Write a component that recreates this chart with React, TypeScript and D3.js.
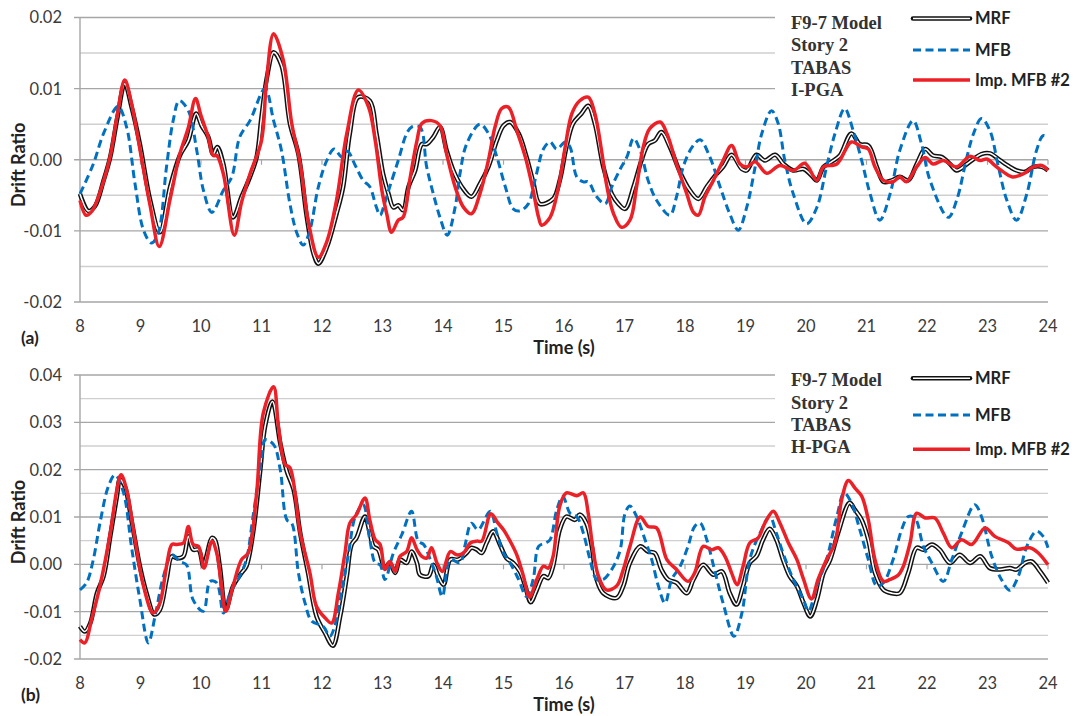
import * as d3 from "d3";

type Pt = [number, number];

// time (s), drift ratio x 1e-3
const xTickLabels = [8, 9, 10, 11, 12, 13, 14, 15, 16, 17, 18, 19, 20, 21, 22, 23, 24];
const seriesNames = ["MRF", "MFB", "Imp. MFB #2"];

const topMRF: Pt[] = [[8.0,-4.8],[8.14,-7.2],[8.25,-6.5],[8.39,-2.9],[8.5,0.4],[8.62,6.0],[8.74,10.7],[8.85,7.5],[8.99,2.2],[9.16,-5.7],[9.32,-10.2],[9.49,-3.8],[9.65,0.6],[9.79,2.7],[9.92,6.5],[10.01,4.8],[10.12,3.2],[10.2,0.8],[10.27,1.8],[10.37,-0.6],[10.53,-8.1],[10.67,-5.2],[10.81,-2.4],[10.92,0.4],[11.0,6.0],[11.09,11.6],[11.2,15.1],[11.33,13.3],[11.47,5.1],[11.61,0.8],[11.75,-8.1],[11.86,-13.2],[11.94,-14.6],[12.08,-12.3],[12.24,-7.6],[12.35,-3.8],[12.46,3.7],[12.6,8.8],[12.79,8.3],[12.9,3.7],[13.01,-2.0],[13.1,-4.8],[13.18,-6.7],[13.26,-6.4],[13.34,-7.1],[13.43,-3.8],[13.54,-1.5],[13.65,2.2],[13.73,2.2],[13.84,3.2],[13.95,4.6],[14.06,1.3],[14.17,-1.5],[14.31,-3.8],[14.47,-5.2],[14.61,-3.4],[14.75,-1.0],[14.89,2.7],[15.0,4.8],[15.11,5.3],[15.25,3.7],[15.38,0.4],[15.49,-3.1],[15.6,-6.2],[15.82,-5.5],[15.93,-2.9],[16.04,1.8],[16.15,5.1],[16.29,6.5],[16.4,7.6],[16.51,5.1],[16.65,-1.0],[16.79,-4.8],[16.9,-6.2],[17.01,-6.9],[17.15,-3.8],[17.28,-0.1],[17.39,2.2],[17.5,2.7],[17.61,3.9],[17.75,1.8],[17.92,-1.8],[18.08,-4.3],[18.22,-5.5],[18.36,-3.8],[18.5,-2.2],[18.63,-1.0],[18.77,0.7],[18.94,-1.3],[19.02,-1.5],[19.18,0.7],[19.32,-0.1],[19.49,0.7],[19.63,-0.6],[19.79,-1.5],[19.96,-1.3],[20.09,-2.2],[20.18,-2.9],[20.29,-1.0],[20.42,-0.3],[20.56,0.6],[20.75,3.7],[20.89,2.2],[21.03,2.0],[21.17,-1.0],[21.28,-3.1],[21.42,-2.9],[21.55,-2.4],[21.69,-2.9],[21.83,-0.6],[21.97,1.5],[22.1,0.6],[22.24,0.4],[22.38,-0.6],[22.49,-1.5],[22.66,-0.6],[22.77,0.1],[22.9,0.8],[23.04,0.9],[23.21,-0.1],[23.37,-1.0],[23.48,-1.5],[23.62,-1.7],[23.76,-1.0],[23.9,-1.0],[24.0,-1.5]];

const topMFB: Pt[] = [[8.0,-4.8],[8.22,-0.6],[8.39,3.7],[8.63,7.5],[8.77,4.6],[8.91,-3.4],[9.05,-9.9],[9.18,-11.7],[9.29,-10.4],[9.43,-1.0],[9.54,5.5],[9.64,8.3],[9.79,6.9],[9.93,1.3],[10.04,-4.3],[10.18,-7.4],[10.37,-4.3],[10.51,-2.4],[10.64,3.2],[10.81,5.5],[11.06,10.0],[11.2,5.5],[11.33,1.3],[11.47,-6.2],[11.58,-10.2],[11.69,-12.0],[11.8,-9.9],[11.94,-3.8],[12.08,-0.1],[12.2,1.5],[12.33,0.4],[12.42,1.2],[12.55,-0.8],[12.68,-2.9],[12.79,-3.8],[12.9,-6.7],[12.96,-7.8],[13.04,-6.0],[13.12,-3.8],[13.26,-0.1],[13.4,3.7],[13.48,4.6],[13.62,4.6],[13.73,-1.0],[13.84,-4.8],[13.95,-8.1],[14.07,-10.6],[14.2,-6.7],[14.28,-2.0],[14.39,2.2],[14.61,5.0],[14.75,3.7],[14.89,0.4],[15.03,-3.8],[15.16,-6.9],[15.27,-7.2],[15.41,-6.2],[15.52,-2.9],[15.66,1.5],[15.77,2.5],[15.88,1.5],[16.02,2.5],[16.1,1.8],[16.21,-2.4],[16.32,-3.1],[16.4,-3.1],[16.54,-5.2],[16.68,-6.2],[16.79,-3.8],[16.93,-1.3],[17.04,0.4],[17.15,3.0],[17.26,1.3],[17.39,-2.9],[17.53,-5.7],[17.75,-7.8],[17.86,-5.2],[17.97,-1.0],[18.12,1.8],[18.25,2.8],[18.41,0.4],[18.58,-3.8],[18.74,-7.6],[18.88,-9.9],[19.02,-6.7],[19.16,-1.0],[19.27,3.7],[19.43,6.9],[19.54,5.1],[19.65,-0.1],[19.79,-4.8],[20.01,-9.0],[20.18,-6.7],[20.34,-1.0],[20.48,3.7],[20.64,7.2],[20.78,4.1],[20.92,-0.1],[21.06,-4.8],[21.22,-8.5],[21.39,-4.8],[21.55,1.3],[21.77,5.5],[21.91,2.2],[22.05,-2.9],[22.35,-8.1],[22.49,-5.7],[22.66,0.4],[22.77,3.7],[22.9,5.8],[23.04,4.1],[23.18,-1.0],[23.32,-5.7],[23.48,-8.5],[23.65,-4.8],[23.81,1.3],[23.92,3.4],[24.0,3.2]];

const topImp: Pt[] = [[8.0,-5.7],[8.1,-7.8],[8.2,-7.2],[8.39,-3.0],[8.5,0.5],[8.62,6.5],[8.74,11.2],[8.85,8.0],[8.99,1.5],[9.16,-6.5],[9.31,-12.2],[9.49,-5.5],[9.65,0.8],[9.79,4.5],[9.91,8.6],[10.0,6.2],[10.12,3.2],[10.2,0.6],[10.26,0.6],[10.37,-2.0],[10.55,-10.6],[10.67,-6.0],[10.81,-2.0],[11.0,2.7],[11.08,10.7],[11.2,17.7],[11.36,14.0],[11.5,5.1],[11.64,-0.5],[11.78,-9.0],[11.94,-13.7],[12.08,-11.5],[12.24,-5.7],[12.41,3.7],[12.6,9.8],[12.77,7.4],[12.88,2.7],[12.99,-4.3],[13.07,-7.6],[13.15,-10.2],[13.26,-8.5],[13.34,-8.1],[13.45,-2.9],[13.57,2.7],[13.65,5.1],[13.81,5.5],[13.95,4.8],[14.06,0.8],[14.2,-3.8],[14.34,-6.7],[14.47,-7.6],[14.61,-4.8],[14.75,-0.1],[14.86,4.6],[14.97,7.2],[15.08,7.4],[15.22,4.1],[15.36,0.4],[15.49,-4.3],[15.58,-8.1],[15.63,-9.2],[15.77,-8.1],[15.91,-3.8],[16.02,1.8],[16.13,6.5],[16.26,8.3],[16.4,8.8],[16.51,6.5],[16.62,1.3],[16.71,-3.8],[16.82,-7.6],[16.95,-9.5],[17.09,-8.5],[17.2,-3.8],[17.31,1.8],[17.42,4.4],[17.59,5.3],[17.7,3.7],[17.86,-0.6],[18.03,-4.8],[18.14,-7.4],[18.22,-7.8],[18.33,-5.2],[18.47,-2.9],[18.63,-0.1],[18.77,2.0],[18.91,-0.6],[19.02,-1.0],[19.16,-0.3],[19.35,-1.9],[19.57,-0.8],[19.79,-1.5],[19.98,-0.5],[20.18,-2.9],[20.29,-1.0],[20.51,-0.6],[20.75,2.5],[20.92,1.8],[21.03,1.5],[21.14,-1.0],[21.28,-2.9],[21.44,-3.1],[21.55,-2.4],[21.66,-3.1],[21.83,-1.0],[21.97,0.3],[22.1,-0.6],[22.27,-0.1],[22.49,-1.0],[22.71,0.5],[22.88,-0.1],[22.99,0.1],[23.12,-0.8],[23.26,-1.7],[23.4,-2.4],[23.59,-2.0],[23.76,-1.0],[23.9,-0.8],[24.0,-1.5]];

const botMRF: Pt[] = [[8.0,-13.1],[8.08,-14.2],[8.17,-12.4],[8.28,-6.1],[8.39,-2.5],[8.5,5.9],[8.61,14.4],[8.66,17.9],[8.74,16.5],[8.85,9.4],[8.99,-0.4],[9.1,-6.1],[9.23,-10.6],[9.32,-9.6],[9.43,-3.2],[9.52,1.7],[9.6,1.3],[9.71,1.7],[9.79,5.9],[9.87,3.1],[9.96,3.1],[10.04,-0.4],[10.09,1.7],[10.18,5.6],[10.23,5.2],[10.31,-0.4],[10.41,-9.6],[10.53,-4.6],[10.67,-1.8],[10.75,-0.4],[10.86,6.6],[10.98,20.0],[11.06,29.2],[11.18,34.4],[11.31,25.6],[11.42,19.6],[11.53,15.8],[11.64,6.6],[11.77,-1.8],[11.91,-11.0],[12.05,-14.5],[12.18,-17.2],[12.3,-11.0],[12.41,-2.5],[12.49,4.2],[12.57,5.6],[12.71,10.1],[12.79,6.6],[12.85,3.8],[12.93,3.1],[13.04,-0.8],[13.12,0.3],[13.21,-1.8],[13.29,1.0],[13.4,0.3],[13.48,2.7],[13.57,0.3],[13.62,-2.2],[13.76,-2.5],[13.84,-0.1],[13.92,-2.5],[14.01,-4.3],[14.12,1.0],[14.25,1.0],[14.39,2.4],[14.47,3.5],[14.56,3.1],[14.64,2.4],[14.72,4.5],[14.83,7.0],[14.94,4.2],[15.05,1.3],[15.16,0.3],[15.27,-1.5],[15.36,-4.6],[15.45,-8.0],[15.55,-5.4],[15.66,-2.5],[15.74,-2.9],[15.82,-0.4],[15.93,7.3],[16.04,10.1],[16.18,9.4],[16.26,10.5],[16.37,8.7],[16.46,3.8],[16.54,-3.2],[16.65,-6.1],[16.87,-7.1],[16.98,-4.6],[17.09,0.3],[17.26,3.8],[17.39,2.7],[17.5,2.4],[17.61,-1.1],[17.72,-3.2],[17.86,-3.9],[18.03,-6.1],[18.14,-3.2],[18.3,-0.1],[18.47,-2.2],[18.61,-1.5],[18.74,-6.1],[18.85,-8.5],[18.96,-4.6],[19.07,0.3],[19.18,1.7],[19.29,5.2],[19.4,7.5],[19.51,5.2],[19.62,1.0],[19.73,-2.5],[19.85,-4.6],[19.96,-8.2],[20.07,-11.0],[20.18,-7.5],[20.29,-1.8],[20.4,1.0],[20.53,6.6],[20.72,13.0],[20.81,11.5],[20.92,9.4],[21.03,5.2],[21.14,-1.8],[21.28,-5.4],[21.42,-6.1],[21.55,-6.1],[21.69,-1.8],[21.83,3.5],[21.94,3.1],[22.08,4.2],[22.21,3.1],[22.38,0.3],[22.54,2.0],[22.71,0.3],[22.88,1.7],[23.04,-0.8],[23.21,-1.1],[23.37,-0.8],[23.48,-1.1],[23.62,0.3],[23.73,0.6],[23.87,-1.5],[24.0,-3.9]];

const botMFB: Pt[] = [[8.0,-5.4],[8.11,-3.9],[8.22,1.0],[8.33,8.7],[8.47,16.5],[8.58,18.9],[8.72,15.1],[8.85,3.8],[8.99,-7.5],[9.13,-16.6],[9.24,-11.0],[9.38,-2.5],[9.52,2.0],[9.65,0.6],[9.76,-0.1],[9.87,-7.5],[10.04,-9.9],[10.15,-3.6],[10.26,-3.9],[10.37,-10.3],[10.48,-6.1],[10.64,-2.5],[10.75,1.0],[10.86,10.1],[11.0,22.1],[11.06,26.3],[11.2,25.3],[11.31,20.0],[11.42,9.4],[11.5,8.7],[11.61,-1.8],[11.72,-8.2],[11.83,-12.0],[12.02,-13.1],[12.13,-15.2],[12.21,-13.1],[12.33,-5.4],[12.44,2.4],[12.55,10.1],[12.68,12.6],[12.79,5.2],[12.88,0.3],[12.96,-0.1],[13.04,-3.2],[13.18,2.4],[13.32,6.3],[13.48,11.2],[13.59,4.9],[13.68,4.2],[13.79,1.0],[13.89,-2.5],[13.99,-6.8],[14.12,1.0],[14.28,0.3],[14.36,3.8],[14.47,8.7],[14.58,7.3],[14.78,11.2],[14.89,6.6],[15.0,2.4],[15.11,0.3],[15.25,-3.2],[15.38,-6.8],[15.49,-3.2],[15.58,3.8],[15.69,4.5],[15.77,5.2],[15.88,11.5],[15.98,14.4],[16.1,10.8],[16.21,10.1],[16.32,6.6],[16.43,1.0],[16.54,-3.2],[16.65,-3.2],[16.82,-0.4],[16.93,3.1],[17.01,10.8],[17.09,12.3],[17.2,10.1],[17.34,5.2],[17.45,1.0],[17.56,-4.6],[17.67,-8.2],[17.78,-3.2],[17.92,-0.4],[18.05,3.8],[18.16,8.0],[18.25,8.7],[18.36,5.2],[18.5,-1.8],[18.63,-8.2],[18.81,-15.2],[18.94,-10.3],[19.07,1.0],[19.24,6.6],[19.4,10.1],[19.51,6.6],[19.62,2.4],[19.79,-3.2],[19.96,-7.5],[20.04,-9.9],[20.18,-4.6],[20.34,1.0],[20.51,10.1],[20.63,15.1],[20.75,13.0],[20.89,7.3],[21.03,1.0],[21.17,-4.6],[21.28,-3.9],[21.44,1.0],[21.58,7.3],[21.69,10.1],[21.8,9.8],[21.94,3.8],[22.08,0.3],[22.27,-3.6],[22.41,1.0],[22.57,6.6],[22.79,12.6],[22.9,10.1],[23.07,1.7],[23.23,-3.2],[23.37,-5.5],[23.51,-2.5],[23.65,3.8],[23.81,7.0],[23.92,5.9],[24.0,3.5]];

const botImp: Pt[] = [[8.0,-15.9],[8.08,-16.6],[8.19,-11.7],[8.33,-4.6],[8.5,6.6],[8.61,15.8],[8.68,18.9],[8.77,15.8],[8.91,5.2],[9.05,-4.6],[9.21,-10.3],[9.32,-8.2],[9.43,-0.4],[9.52,4.2],[9.6,4.2],[9.71,4.5],[9.79,8.0],[9.87,4.2],[9.96,3.8],[10.05,-0.8],[10.18,4.9],[10.26,2.4],[10.34,-4.6],[10.41,-9.9],[10.53,-4.6],[10.67,1.0],[10.78,2.4],[10.92,15.1],[11.03,32.0],[11.2,37.5],[11.28,29.2],[11.39,21.1],[11.47,20.4],[11.64,6.6],[11.8,-1.8],[11.91,-8.9],[12.05,-11.3],[12.16,-12.4],[12.27,-6.1],[12.38,2.4],[12.46,8.7],[12.57,10.5],[12.71,14.0],[12.79,9.4],[12.88,5.2],[12.96,4.2],[13.04,-1.1],[13.12,0.6],[13.21,-1.5],[13.29,1.7],[13.4,2.7],[13.48,5.6],[13.57,3.1],[13.65,1.7],[13.73,1.3],[13.81,3.5],[13.9,0.3],[13.99,-1.5],[14.12,2.7],[14.23,2.0],[14.34,2.4],[14.45,4.5],[14.56,4.9],[14.64,4.9],[14.79,10.7],[14.91,8.7],[15.0,7.3],[15.11,4.9],[15.22,2.0],[15.33,-2.5],[15.43,-6.9],[15.55,-3.2],[15.66,-0.4],[15.74,-0.8],[15.82,1.7],[15.93,12.3],[16.04,15.1],[16.21,14.5],[16.32,15.1],[16.4,10.8],[16.48,3.1],[16.57,-2.5],[16.7,-5.4],[16.87,-4.6],[16.98,-1.1],[17.09,3.8],[17.26,10.0],[17.39,8.0],[17.53,7.7],[17.7,1.0],[17.86,-1.1],[18.05,-3.6],[18.16,-1.8],[18.3,3.8],[18.44,3.1],[18.55,3.5],[18.66,1.7],[18.77,-1.8],[18.86,-4.3],[18.96,-0.4],[19.07,4.5],[19.21,5.6],[19.32,8.7],[19.46,11.2],[19.57,8.7],[19.71,4.5],[19.85,1.0],[19.96,-3.2],[20.09,-7.3],[20.2,-3.2],[20.34,1.0],[20.48,4.5],[20.59,13.7],[20.7,17.7],[20.81,16.1],[20.92,14.4],[21.03,9.4],[21.14,1.0],[21.28,-3.6],[21.39,-3.2],[21.53,-2.2],[21.61,-0.4],[21.72,4.5],[21.83,10.8],[21.97,9.8],[22.13,9.8],[22.27,6.6],[22.41,3.5],[22.57,5.2],[22.74,4.2],[22.96,7.7],[23.12,5.9],[23.34,4.6],[23.48,3.2],[23.7,3.5],[23.84,2.4],[24.0,-0.1]];

const topNote = ["F9-7 Model", "Story 2", "TABAS", "I-PGA"];
const botNote = ["F9-7 Model", "Story 2", "TABAS", "H-PGA"];

const W = 1078;
const H = 716;
const X0 = 80;
const X1 = 1048;
const RED = "#EC2027";
const BLUE = "#0070C0";
const SANS = "Lato, 'Open Sans', sans-serif";
const SERIF = "'Liberation Serif', 'Times New Roman', serif";

function Panel({ top, bottom, domain, tag, note, legendY, mrf, mfb, imp }) {
    const x = d3.scaleLinear().domain([8, 24]).range([X0, X1]);
    const y = d3.scaleLinear().domain(domain).range([bottom, top]);
    const line = d3
        .line<Pt>()
        .x((d) => x(d[0]))
        .y((d) => y(d[1]))
        .curve(d3.curveCatmullRom.alpha(0.5));

    const grid = d3.range(domain[0], domain[1] + 1, 5);
    const majors = grid.filter((v) => v % 10 === 0);
    const cy = (top + bottom) / 2 + 5;

    return (
        <g>
            {grid.map((v) => (
                <line
                    key={v}
                    x1={v % 10 === 0 ? X0 - 6 : X0}
                    x2={X1}
                    y1={y(v)}
                    y2={y(v)}
                    stroke={v % 10 === 0 ? "#a6a6a6" : "#cfcfcf"}
                    strokeWidth={1.4}
                />
            ))}
            <line x1={X0} x2={X0} y1={top} y2={bottom} stroke="#a6a6a6" strokeWidth={1.4} />
            {xTickLabels.slice(1).map((t) => (
                <line key={t} x1={x(t)} x2={x(t)} y1={y(0)} y2={y(0) + 5} stroke="#a6a6a6" strokeWidth={1.2} />
            ))}
            {majors.map((v) => (
                <text key={v} x={62} y={y(v)} dy="0.36em" textAnchor="end" fontFamily={SANS} fontSize={16.5} fill="#3a3a3a">
                    {(v / 1000).toFixed(2)}
                </text>
            ))}
            {xTickLabels.map((t) => (
                <text key={t} x={x(t)} y={bottom + 30} textAnchor="middle" fontFamily={SANS} fontSize={16.5} fill="#3a3a3a">
                    {t}
                </text>
            ))}
            <text x={(X0 + X1) / 2} y={bottom + 51.5} textAnchor="middle" fontFamily={SANS} fontWeight="bold" fontSize={18} fill="#222">
                Time (s)
            </text>
            <text x={21} y={bottom + 42} fontFamily={SANS} fontWeight="bold" fontSize={17.5} fill="#222">
                {tag}
            </text>
            <text transform={`translate(25,${cy}) rotate(-90)`} textAnchor="middle" fontFamily={SANS} fontWeight="bold" fontSize={18} fill="#222">
                Drift Ratio
            </text>

            {/* annotation + legend box */}
            <rect x={775} y={top - 12} width={W - 775} height={97} fill="#fff" />
            {note.map((s, i) => (
                <text key={s} x={791} y={top + [11, 33.5, 56, 78.3][i]} fontFamily={SERIF} fontWeight="bold" fontSize={18.5} fill="#333">
                    {s}
                </text>
            ))}
            <g>
                <line x1={913} x2={970} y1={top + legendY[0]} y2={top + legendY[0]} stroke="#111" strokeWidth={4.6} strokeLinecap="round" />
                <line x1={913} x2={970} y1={top + legendY[0]} y2={top + legendY[0]} stroke="#fff" strokeWidth={1.6} />
                <line x1={913} x2={970} y1={top + legendY[1]} y2={top + legendY[1]} stroke={BLUE} strokeWidth={3} strokeDasharray="8,4.5" />
                <line x1={913} x2={970} y1={top + legendY[2]} y2={top + legendY[2]} stroke={RED} strokeWidth={3.5} />
                {seriesNames.map((s, i) => (
                    <text key={s} x={975} y={top + legendY[i]} dy="0.36em" fontFamily={SANS} fontWeight="bold" fontSize={16.5} fill="#222">
                        {s}
                    </text>
                ))}
            </g>

            <path d={line(mrf)} fill="none" stroke="#111" strokeWidth={4.6} />
            <path d={line(mrf)} fill="none" stroke="#fff" strokeWidth={1.6} />
            <path d={line(mfb)} fill="none" stroke={BLUE} strokeWidth={3} strokeDasharray="8,4.5" />
            <path d={line(imp)} fill="none" stroke={RED} strokeWidth={3.5} />
        </g>
    );
}

export default function App() {
    return (
        <svg width={W} height={H} style={{ position: "absolute", left: 0, top: 0, background: "#fff" }}>
            <Panel top={17.5} bottom={302} domain={[-20, 20]} tag="(a)" note={topNote} legendY={[1, 32.5, 62.5]} mrf={topMRF} mfb={topMFB} imp={topImp} />
            <Panel top={375} bottom={659} domain={[-20, 40]} tag="(b)" note={botNote} legendY={[3.3, 40, 74.3]} mrf={botMRF} mfb={botMFB} imp={botImp} />
        </svg>
    );
}
